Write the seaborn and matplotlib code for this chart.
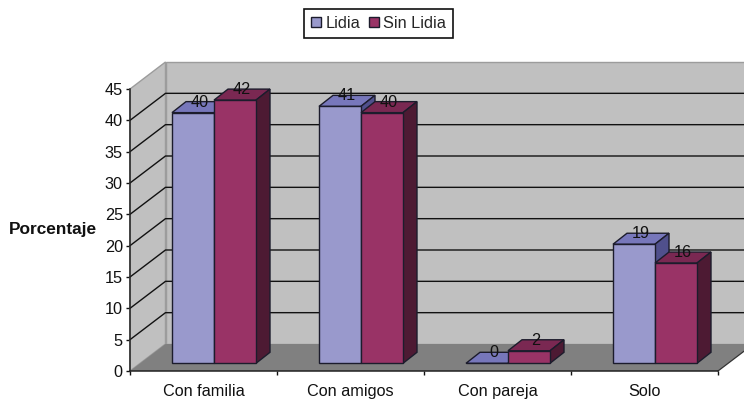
import matplotlib
matplotlib.use("Agg")
import matplotlib.pyplot as plt
import pandas as pd
import seaborn as sns
from matplotlib.patches import Polygon

categories = ["Con familia", "Con amigos", "Con pareja", "Solo"]
lidia = [40, 41, 0, 19]
sin_lidia = [42, 40, 2, 16]
series_names = ["Lidia", "Sin Lidia"]
y_ticks = list(range(0, 50, 5))

W, H = 744, 401
sns.set_style("white")
plt.rcParams["font.family"] = ["Liberation Sans", "DejaVu Sans"]
FS = 11.7

df = pd.DataFrame({
    "cat": categories * 2,
    "val": lidia + sin_lidia,
    "serie": [series_names[0]] * 4 + [series_names[1]] * 4,
})

def rect(l, t, r, b):
    return [l / W, 1 - b / H, (r - l) / W, (b - t) / H]

fig = plt.figure(figsize=(W / 100, H / 100), dpi=100, facecolor="white")

# frame axes: front plane of the 3-D box
ax = fig.add_axes(rect(130, 89, 718, 371))
ax.set_xlim(0, 4)
ax.set_ylim(0, 45)
ax.patch.set_visible(False)
PX = 147.0
PY = 282 / 45
dx, dy = 35.5 / PX, 27 / PY

wall = "#C0C0C0"
edge = "#9C9C9C"
ax.add_patch(Polygon([(0, 0), (0, 45), (dx, 45 + dy), (dx, dy)], fc=wall, ec=edge, lw=1, clip_on=False, zorder=1))
ax.add_patch(Polygon([(dx, dy), (dx, 45 + dy), (4 + dx, 45 + dy), (4 + dx, dy)], fc=wall, ec=edge, lw=1, clip_on=False, zorder=1))
ax.add_patch(Polygon([(0, 0), (4, 0), (4 + dx, dy), (dx, dy)], fc="#808080", ec="none", clip_on=False, zorder=1.5))
for v in y_ticks[1:-1]:
    ax.plot([0, dx, 4 + dx], [v, v + dy, v + dy], color="#111111", lw=1, clip_on=False, zorder=1.2)
ax.plot([4, 4 + dx], [0, dy], color="#333333", lw=0.9, clip_on=False, zorder=1.6)

ax.set_yticks(y_ticks)
ax.set_xticks(range(5))
ax.set_xticklabels([])
ax.set_xticks([i + 0.5 for i in range(4)], minor=True)
ax.set_xticklabels(categories, minor=True, fontsize=FS, color="#111111")
ax.tick_params(axis="x", which="major", length=3.2, width=1, color="#111111", bottom=True)
ax.tick_params(axis="x", which="minor", length=0, pad=9.5)
ax.tick_params(axis="y", length=3.2, width=1, color="#111111", left=True, pad=2, labelsize=FS, labelcolor="#111111")
for s in ["top", "right"]:
    ax.spines[s].set_visible(False)
for s in ["left", "bottom"]:
    ax.spines[s].set_color("#222222")
    ax.spines[s].set_linewidth(1.1)
    ax.spines[s].set_zorder(3)
ax.set_ylabel("")
fig.text(52.5 / W, 1 - 229.5 / H, "Porcentaje", fontsize=12.4, fontweight="bold", ha="center", va="center", color="#111111")

# bar axes: bars stand a little behind the front plane
bar_ax = fig.add_axes(rect(214 - PX / 2, 363.3 - 282, 214 + 3.5 * PX, 363.3))
bar_ax.patch.set_visible(False)
palette = {"Lidia": "#9999CC", "Sin Lidia": "#993366"}
sns.barplot(data=df, x="cat", y="val", hue="serie", order=categories, hue_order=series_names,
            palette=palette, saturation=1, width=84 / PX, gap=0, edgecolor="#1c1c2c", linewidth=1,
            ax=bar_ax, legend=True)
bar_ax.set_xlim(-0.5, 3.5)
bar_ax.set_ylim(0, 45)
bar_ax.set_axis_off()

shades = [("#7777BB", "#50508C"), ("#7A2852", "#4D1A33")]
bdx, bdy = 14 / PX, 11 / PY
for k, container in enumerate(bar_ax.containers):
    top_c, side_c = shades[k]
    for bar in container:
        bar.set_zorder(2 + k + 0.5)
        bar.set_clip_on(False)
        x0, w, h = bar.get_x(), bar.get_width(), bar.get_height()
        bar_ax.add_patch(Polygon([(x0, h), (x0 + w, h), (x0 + w + bdx, h + bdy), (x0 + bdx, h + bdy)],
                                 fc=top_c, ec="#1c1c2c", lw=1, clip_on=False, zorder=2 + k))
        bar_ax.add_patch(Polygon([(x0 + w, 0), (x0 + w + bdx, bdy), (x0 + w + bdx, h + bdy), (x0 + w, h)],
                                 fc=side_c, ec="#1c1c2c", lw=1, clip_on=False, zorder=2 + k))
        bar_ax.annotate(f"{h:.0f}", (x0 + w / 2, h), xytext=(6.5, 10.5), textcoords="offset pixels",
                        ha="center", va="center", fontsize=FS, color="#111111", zorder=6, annotation_clip=False)

sns.move_legend(bar_ax, "center", bbox_to_anchor=(378.5 / W, 1 - 23.3 / H), bbox_transform=fig.transFigure,
                ncol=2, title=None, frameon=True, fancybox=False, framealpha=1, edgecolor="#111111",
                fontsize=FS, handlelength=0.62, handleheight=0.62, handletextpad=0.3, columnspacing=0.5,
                borderpad=0.42, borderaxespad=0)
bar_ax.get_legend().get_frame().set_linewidth(1.2)

fig.savefig("out.png", dpi=100)
